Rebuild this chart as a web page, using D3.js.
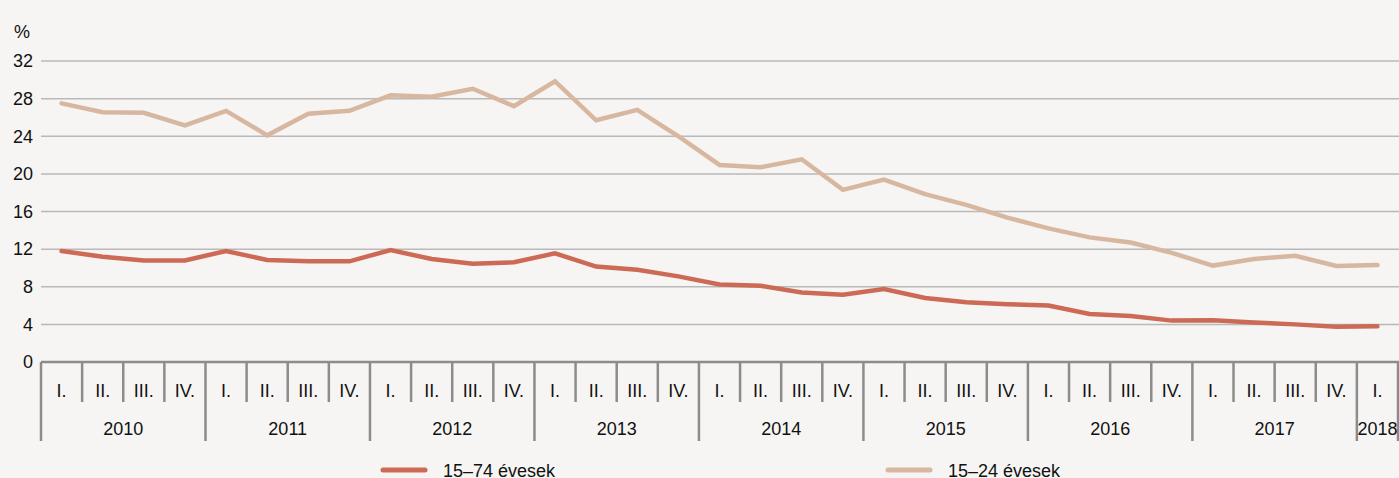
<!DOCTYPE html>
<html>
<head>
<meta charset="utf-8">
<script src="https://cdn.jsdelivr.net/npm/d3@7"></script>
<style>
  html, body { margin: 0; padding: 0; background: #f6f5f3; }
  svg { display: block; }
  text { font-family: 'Liberation Sans Narrow', 'Arial Narrow', 'Liberation Sans', sans-serif; fill: #111; }
</style>
</head>
<body>
<svg id="chart"></svg>
<script>
// quarters 2010 Q1 .. 2018 Q1
const years = ['2010', '2011', '2012', '2013', '2014', '2015', '2016', '2017', '2018']
const quarterNames = ['I.', 'II.', 'III.', 'IV.']
const yTicks = [0, 4, 8, 12, 16, 20, 24, 28, 32]

const seriesNames = ['15–74 évesek', '15–24 évesek']
const seriesColors = ['#cc6a55', '#d8b7a0']

const values1574 = [
  11.8, 11.2, 10.8, 10.8,
  11.8, 10.85, 10.7, 10.7,
  11.9, 10.95, 10.45, 10.6,
  11.55, 10.15, 9.8, 9.1,
  8.25, 8.1, 7.4, 7.15,
  7.75, 6.8, 6.35, 6.15,
  6.0, 5.1, 4.9, 4.4,
  4.45, 4.2, 4.0, 3.75,
  3.8
]
const values1524 = [
  27.5, 26.55, 26.5, 25.15,
  26.7, 24.1, 26.4, 26.7,
  28.35, 28.2, 29.05, 27.2,
  29.85, 25.7, 26.8, 24.0,
  20.95, 20.7, 21.55, 18.3,
  19.4, 17.85, 16.7, 15.35,
  14.2, 13.25, 12.7, 11.6,
  10.25, 10.95, 11.3, 10.2,
  10.3
]

const width = 1399
const height = 478
const plotLeft = 41
const plotRight = 1398
const y0 = 362

// build quarter keys
const quarters = []
years.forEach(yr => {
  quarterNames.forEach((q, i) => {
    if (quarters.length < values1574.length) quarters.push({ key: yr + '-' + i, year: yr, q })
  })
})

const svg = d3.select('#chart')
  .attr('width', width)
  .attr('height', height)

svg.append('rect')
  .attr('width', width)
  .attr('height', height)
  .attr('fill', '#f6f5f3')

const x = d3.scaleBand()
  .domain(quarters.map(d => d.key))
  .range([plotLeft, plotRight])
  .padding(0)

const y = d3.scaleLinear()
  .domain([0, 32])
  .range([y0, 61])

// ------------------
// Gridlines
// ------------------
svg.append('g')
  .selectAll('line')
  .data(yTicks.filter(d => d > 0))
  .join('line')
  .attr('x1', plotLeft)
  .attr('x2', width)
  .attr('y1', d => y(d))
  .attr('y2', d => y(d))
  .attr('stroke', '#b9b9b9')
  .attr('stroke-width', 1.5)

// y axis labels
const yAxis = d3.axisLeft(y).tickValues(yTicks).tickSize(0).tickPadding(8)
const yg = svg.append('g')
  .attr('transform', `translate(${plotLeft},0)`)
  .call(yAxis)
yg.select('.domain').remove()
yg.selectAll('text')
  .attr('font-size', 18)
  .attr('fill', '#111')
  .style('font-family', null)

svg.append('text')
  .attr('x', 14)
  .attr('y', 38)
  .attr('font-size', 18)
  .text('%')

// ------------------
// X axis (two level)
// ------------------
const axisColor = '#8c8c8c'
const xg = svg.append('g')

xg.append('line')
  .attr('x1', plotLeft)
  .attr('x2', width)
  .attr('y1', y0)
  .attr('y2', y0)
  .attr('stroke', axisColor)
  .attr('stroke-width', 2.5)

// separators at each band start, plus the end
const seps = quarters.map((d, i) => ({ pos: x(d.key), major: d.q === 'I.' }))
seps.push({ pos: plotRight, major: true })

xg.selectAll('line.sep')
  .data(seps)
  .join('line')
  .attr('class', 'sep')
  .attr('x1', d => d.pos)
  .attr('x2', d => d.pos)
  .attr('y1', y0)
  .attr('y2', d => d.major ? 441 : 402)
  .attr('stroke', axisColor)
  .attr('stroke-width', 2.5)

xg.selectAll('text.q')
  .data(quarters)
  .join('text')
  .attr('class', 'q')
  .attr('x', d => x(d.key) + x.bandwidth() / 2)
  .attr('y', 397)
  .attr('text-anchor', 'middle')
  .attr('font-size', 18)
  .text(d => d.q)

const yearGroups = d3.groups(quarters, d => d.year)
xg.selectAll('text.yr')
  .data(yearGroups)
  .join('text')
  .attr('class', 'yr')
  .attr('x', d => {
    const first = x(d[1][0].key)
    const last = x(d[1][d[1].length - 1].key) + x.bandwidth()
    return (first + last) / 2
  })
  .attr('y', 435)
  .attr('text-anchor', 'middle')
  .attr('font-size', 18)
  .text(d => d[0])

// ------------------
// Lines
// ------------------
const line = d3.line()
  .x((d, i) => x(quarters[i].key) + x.bandwidth() / 2)
  .y(d => y(d))

const allSeries = [values1524, values1574]
const allColors = [seriesColors[1], seriesColors[0]]

svg.append('g')
  .selectAll('path')
  .data(allSeries)
  .join('path')
  .attr('d', d => line(d))
  .attr('fill', 'none')
  .attr('stroke', (d, i) => allColors[i])
  .attr('stroke-width', 4.5)
  .attr('stroke-linejoin', 'miter')
  .attr('stroke-linecap', 'round')

// ------------------
// Legend
// ------------------
const legendX = [383, 888]
const legend = svg.append('g')
  .selectAll('g')
  .data(seriesNames)
  .join('g')
  .attr('transform', (d, i) => `translate(${legendX[i]},470)`)

legend.append('line')
  .attr('x1', 0)
  .attr('x2', 42)
  .attr('stroke', (d, i) => seriesColors[i])
  .attr('stroke-width', 5)
  .attr('stroke-linecap', 'round')

legend.append('text')
  .attr('x', 60)
  .attr('y', 7)
  .attr('font-size', 18)
  .text(d => d)
</script>
</body>
</html>
